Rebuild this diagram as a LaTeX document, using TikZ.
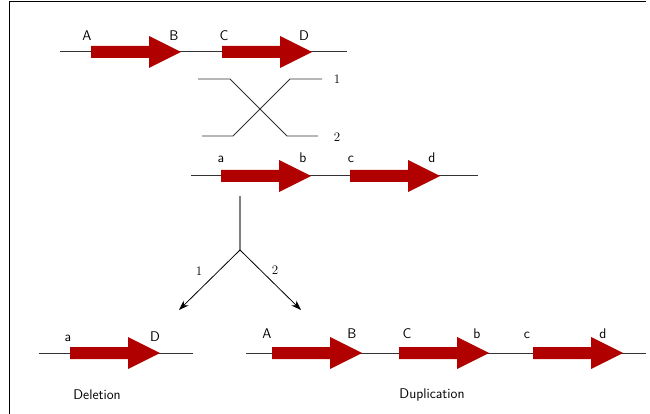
\documentclass[tikz,border=0pt]{standalone}
\usepackage{xcolor}
\usepackage{tikz}
\usetikzlibrary{arrows.meta,positioning,calc}

\definecolor{genered}{RGB}{176,0,0}
\definecolor{dnagray}{RGB}{51,51,51}

\begin{document}
\begin{tikzpicture}[
  x=1pt, y=-1pt,
  dna/.style={draw=dnagray, line width=1pt},
  cross/.style={draw=dnagray, line width=0.8pt},
  glab/.style={font=\sffamily\fontsize{14}{16}\selectfont, anchor=base, inner sep=0pt},
  num/.style={font=\rmfamily\fontsize{13}{15}\selectfont, inner sep=0pt},
  caption/.style={font=\sffamily\fontsize{14}{16}\selectfont, inner sep=0pt},
  fork/.style={-{Stealth[length=10pt,width=7pt]}, line width=0.8pt},
  gene/.pic={\fill[genered] (0,-6) -- (58,-6) -- (58,-16) -- (90,0) -- (58,16) -- (58,6) -- (0,6) -- cycle;},
]
\useasboundingbox (0,0) rectangle (650,414);
% frame
\draw[line width=1pt] (9,414) -- (9,2) -- (646,2);

% parent row
\coordinate (p1) at (60,52);
\coordinate (p2) at (347,52);
\draw[dna] (p1) -- (p2);
\pic at (91,52) {gene};
\pic at (222,52) {gene};
\node[glab] (pA) at (87,41) {A};
\node[glab] (pB) at (174,41) {B};
\node[glab] (pC) at (224,41) {C};
\node[glab] (pD) at (304,41) {D};

% crossover
\coordinate (x1a) at (198,79);
\coordinate (x1b) at (230,79);
\coordinate (x1c) at (287,136);
\coordinate (x1d) at (318,136);
\coordinate (x2a) at (202,136);
\coordinate (x2b) at (233,136);
\coordinate (x2c) at (290,79);
\coordinate (x2d) at (322,79);
\draw[cross] (x1a) -- (x1b) -- (x1c) -- (x1d);
\draw[cross] (x2a) -- (x2b) -- (x2c) -- (x2d);
\node[num] (n1) at (337,79) {1};
\node[num] (n2) at (337,137) {2};

% second row
\coordinate (q1) at (191,176);
\coordinate (q2) at (478,176);
\draw[dna] (q1) -- (q2);
\pic at (221,176) {gene};
\pic at (350,176) {gene};
\node[glab] (qa) at (221,163) {a};
\node[glab] (qb) at (303,163) {b};
\node[glab] (qc) at (351,163) {c};
\node[glab] (qd) at (432,163) {d};

% split
\coordinate (stem) at (240,196);
\coordinate (split) at (240,250);
\coordinate (deltip) at (179,310);
\coordinate (duptip) at (301,310);
\draw[draw=gray, line width=1.6pt] (stem) -- (split);
\draw[fork] (split) -- (deltip);
\draw[fork] (split) -- (duptip);
\node[num] (f1) at (199,271) {1};
\node[num] (f2) at (275,270) {2};

% deletion
\coordinate (d1) at (39,353);
\coordinate (d2) at (193,353);
\draw[dna] (d1) -- (d2);
\pic at (70,353) {gene};
\node[glab] (da) at (68,341) {a};
\node[glab] (dD) at (155,341) {D};
\node[caption] (del) at (97,395) {Deletion};

% duplication
\coordinate (u1) at (246,353);
\coordinate (u2) at (646,353);
\draw[dna] (u1) -- (u2);
\foreach \gx in {272,399,533} \pic at (\gx,353) {gene};
\node[glab] (uA) at (267,338) {A};
\node[glab] (uB) at (352,338) {B};
\node[glab] (uC) at (407,338) {C};
\node[glab] (ub) at (477,338) {b};
\node[glab] (uc) at (527,338) {c};
\node[glab] (ud) at (603,338) {d};
\node[caption] (dup) at (432,395) {Duplication};
\end{tikzpicture}
\end{document}
